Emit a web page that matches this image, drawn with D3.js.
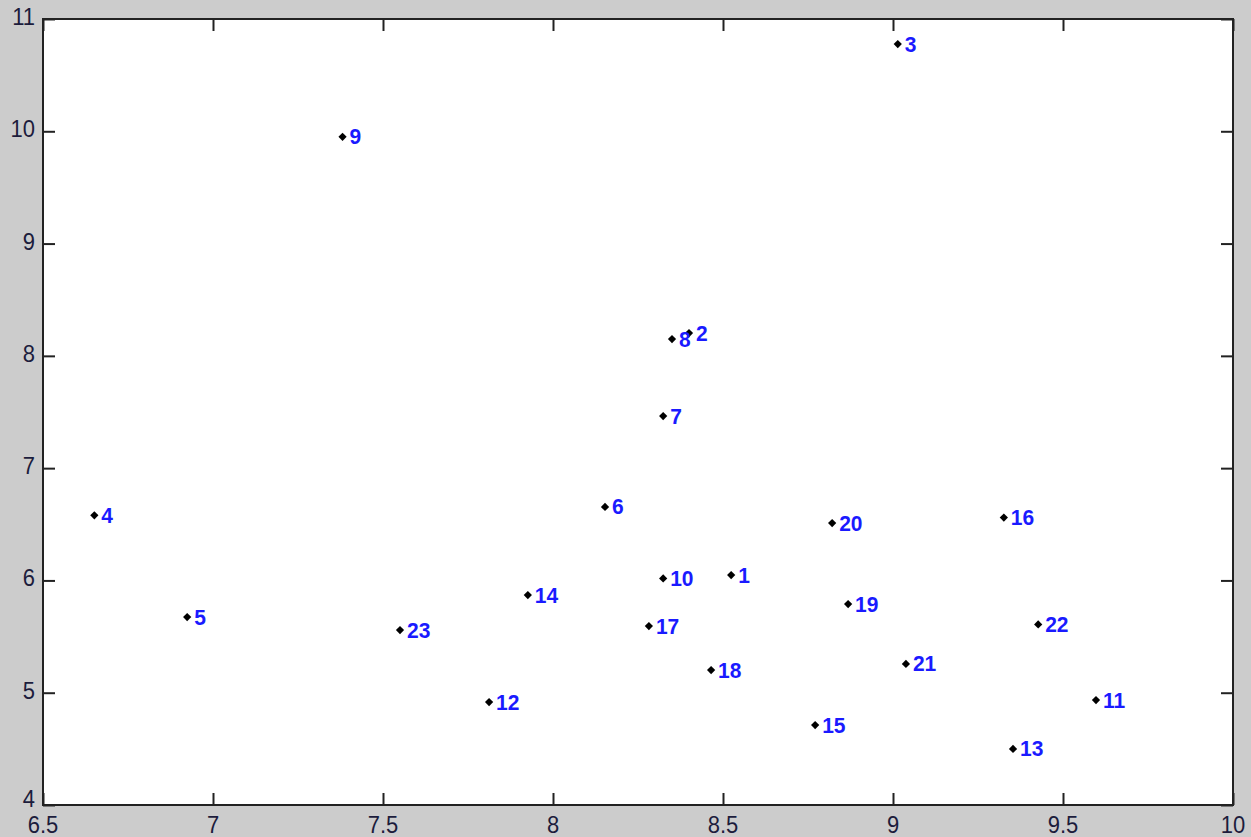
<!DOCTYPE html>
<html>
<head>
<meta charset="utf-8">
<script src="https://cdn.jsdelivr.net/npm/d3@7"></script>
<style>
  html, body { margin: 0; padding: 0; background: #cccccc; }
  svg { display: block; }
</style>
</head>
<body>
<svg id="chart" width="1251" height="837"></svg>
<script>
const pointLabels = ["1","2","3","4","5","6","7","8","9","10","11","12","13","14","15","16","17","18","19","20","21","22","23"];
const xValues = [8.524, 8.400, 9.014, 6.651, 6.924, 8.153, 8.324, 8.350, 7.381, 8.324, 9.597, 7.812, 9.353, 7.926, 8.771, 9.326, 8.282, 8.465, 8.868, 8.821, 9.038, 9.427, 7.550];
const yValues = [6.048, 8.203, 10.777, 6.580, 5.674, 6.654, 7.464, 8.150, 9.951, 6.018, 4.935, 4.917, 4.499, 5.870, 4.712, 6.560, 5.594, 5.202, 5.790, 6.511, 5.256, 5.608, 5.558];
const xTicks = [6.5, 7, 7.5, 8, 8.5, 9, 9.5, 10];
const xTickLabels = ["6.5", "7", "7.5", "8", "8.5", "9", "9.5", "10"];
const yTicks = [4, 5, 6, 7, 8, 9, 10, 11];
const yTickLabels = ["4", "5", "6", "7", "8", "9", "10", "11"];

const svg = d3.select("#chart");
const pLeft = 43, pRight = 1233, pTop = 19, pBottom = 805;

const x = d3.scaleLinear().domain([6.5, 10]).range([pLeft, pRight]);
const y = d3.scaleLinear().domain([4, 11]).range([pBottom, pTop]);

svg.append("rect").attr("x", pLeft).attr("y", pTop)
  .attr("width", pRight - pLeft).attr("height", pBottom - pTop)
  .attr("fill", "#ffffff");

const tickLen = 12;
const axisColor = "#222222";
const labelFont = "Arial, 'Liberation Sans', sans-serif";

function styleAxis(g) {
  g.select(".domain").remove();
  g.selectAll(".tick line").attr("stroke", axisColor).attr("stroke-width", 2);
}

const xAxisB = svg.append("g").attr("transform", `translate(0,${pBottom})`)
  .call(d3.axisTop(x).tickValues(xTicks).tickSize(tickLen).tickFormat(""));
styleAxis(xAxisB);
const xAxisT = svg.append("g").attr("transform", `translate(0,${pTop})`)
  .call(d3.axisBottom(x).tickValues(xTicks).tickSize(tickLen).tickFormat(""));
styleAxis(xAxisT);
const yAxisL = svg.append("g").attr("transform", `translate(${pLeft},0)`)
  .call(d3.axisRight(y).tickValues(yTicks).tickSize(tickLen).tickFormat(""));
styleAxis(yAxisL);
const yAxisR = svg.append("g").attr("transform", `translate(${pRight},0)`)
  .call(d3.axisLeft(y).tickValues(yTicks).tickSize(tickLen).tickFormat(""));
styleAxis(yAxisR);

svg.append("g").selectAll("text").data(xTicks).join("text")
  .attr("transform", d => `translate(${x(d)},${pBottom + 28}) scale(1,1.12)`)
  .attr("text-anchor", "middle")
  .attr("font-family", labelFont).attr("font-size", 22)
  .attr("fill", "#1c1c3c")
  .text((d, i) => xTickLabels[i]);

svg.append("g").selectAll("text").data(yTicks).join("text")
  .attr("transform", (d, i) => `translate(${pLeft - 8},${y(d) + (i === 0 ? 2 : 6)}) scale(1,1.12)`)
  .attr("text-anchor", "end")
  .attr("font-family", labelFont).attr("font-size", 22)
  .attr("fill", "#1c1c3c")
  .text((d, i) => yTickLabels[i]);

svg.append("rect").attr("x", pLeft).attr("y", pTop)
  .attr("width", pRight - pLeft).attr("height", pBottom - pTop)
  .attr("fill", "none").attr("stroke", axisColor).attr("stroke-width", 2);

const pts = pointLabels.map((l, i) => ({label: l, x: xValues[i], y: yValues[i]}));
const sym = d3.symbol().type(d3.symbolSquare).size(34);
svg.append("g").selectAll("path").data(pts).join("path")
  .attr("d", sym)
  .attr("transform", d => `translate(${x(d.x)},${y(d.y)}) rotate(45)`)
  .attr("fill", "#000000");

svg.append("g").selectAll("text").data(pts).join("text")
  .attr("transform", d => `translate(${x(d.x) + 7},${y(d.y) + 7.5}) scale(1,1.08)`)
  .attr("font-family", labelFont).attr("font-size", 21)
  .attr("font-weight", "bold")
  .attr("fill", "#1a1aff")
  .text(d => d.label);
</script>
</body>
</html>
